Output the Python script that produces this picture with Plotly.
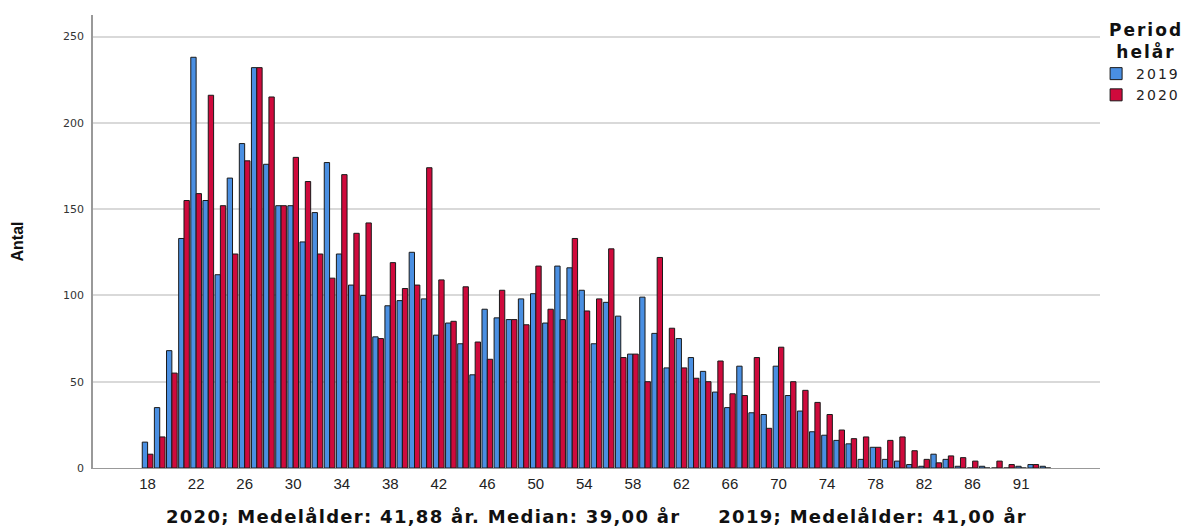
import plotly.graph_objects as go

ages = [str(a) for a in range(18, 90)] + ["91", "92", "93"]

v2019 = [15, 35, 68, 133, 238, 155, 112, 168, 188, 232, 176, 152, 152, 131, 148, 177,
         124, 106, 100, 76, 94, 97, 125, 98, 77, 84, 72, 54, 92, 87, 86, 98,
         101, 84, 117, 116, 103, 72, 96, 88, 66, 99, 78, 58, 75, 64, 56, 44,
         35, 59, 32, 31, 59, 42, 33, 21, 19, 16, 14, 5, 12, 5, 4, 2,
         1, 8, 5, 1, 0, 1, 0, 0, 1, 2, 1]
v2020 = [8, 18, 55, 155, 159, 216, 152, 124, 178, 232, 215, 152, 180, 166, 124, 110,
         170, 136, 142, 75, 119, 104, 106, 174, 109, 85, 105, 73, 63, 103, 86, 83,
         117, 92, 86, 133, 91, 98, 127, 64, 66, 50, 122, 81, 58, 52, 50, 62,
         43, 42, 64, 23, 70, 50, 45, 38, 31, 22, 17, 18, 12, 16, 18, 10,
         5, 3, 7, 6, 4, 0, 4, 2, 0, 2, 0]

tick_labels = ages[0:69:4] + ["91"]

series = [("2019", v2019, "#4a8fe2"), ("2020", v2020, "#cf0a3c")]

title_text = ("<span style='letter-spacing:1.3px'><b>2020; Medelålder: 41,88 år. Median: 39,00 år"
              "\u00a0\u00a0\u00a0\u00a0\u00a02019; Medelålder: 41,00 år</b></span>")

fig = go.Figure()
for name, vals, col in series:
    fig.add_trace(go.Bar(
        x=ages, y=vals,
        name="<span style='letter-spacing:2px'>" + name + "</span>",
        marker=dict(color=col, line=dict(color="#1a1a1a", width=1)),
    ))

fig.add_annotation(
    text="<span style='letter-spacing:2px'><b>Period<br>helår</b></span>",
    xref="paper", yref="paper", x=1.046, y=0.942,
    xanchor="center", yanchor="middle", align="center", showarrow=False,
    font=dict(size=17, family="DejaVu Sans, sans-serif", color="#111"),
)

fig.update_layout(
    width=1184, height=519,
    margin=dict(l=85, r=92, t=7, b=59, autoexpand=False),
    plot_bgcolor="white", paper_bgcolor="white",
    barmode="group", bargap=0.12, bargroupgap=0,
    font=dict(family="Liberation Sans, Arial, sans-serif", color="#222"),
    showlegend=True,
    legend=dict(
        xref="container", x=0.919, xanchor="left",
        yref="paper", y=0.905, yanchor="top",
        font=dict(size=14, family="DejaVu Sans, sans-serif", color="#222"),
        itemwidth=30, tracegroupgap=0,
        bgcolor="rgba(0,0,0,0)",
    ),
    xaxis=dict(
        type="category", categoryorder="array", categoryarray=ages,
        range=[-4.5, len(ages) + 3.5], automargin=False,
        tickmode="array", tickvals=tick_labels, ticktext=tick_labels,
        tickfont=dict(size=15, color="#222"), ticklabelstandoff=2,
        showgrid=False, ticks="", showline=True, linecolor="#999", linewidth=1,
        title=dict(text=title_text,
                   font=dict(size=18, family="DejaVu Sans, sans-serif", color="#111"),
                   standoff=19),
    ),
    yaxis=dict(
        range=[0, 262.5], tickvals=[0, 50, 100, 150, 200, 250], automargin=False,
        tickfont=dict(size=11, family="DejaVu Sans, sans-serif", color="#333"),
        ticklabelstandoff=5,
        showgrid=True, gridcolor="#d9d9d9", gridwidth=1.5,
        showline=True, linecolor="#999", linewidth=1.5, ticks="",
        zeroline=False,
        title=dict(text="<b>Antal</b>", font=dict(size=16, color="#111"), standoff=35),
    ),
)

fig.write_html("out.html")
